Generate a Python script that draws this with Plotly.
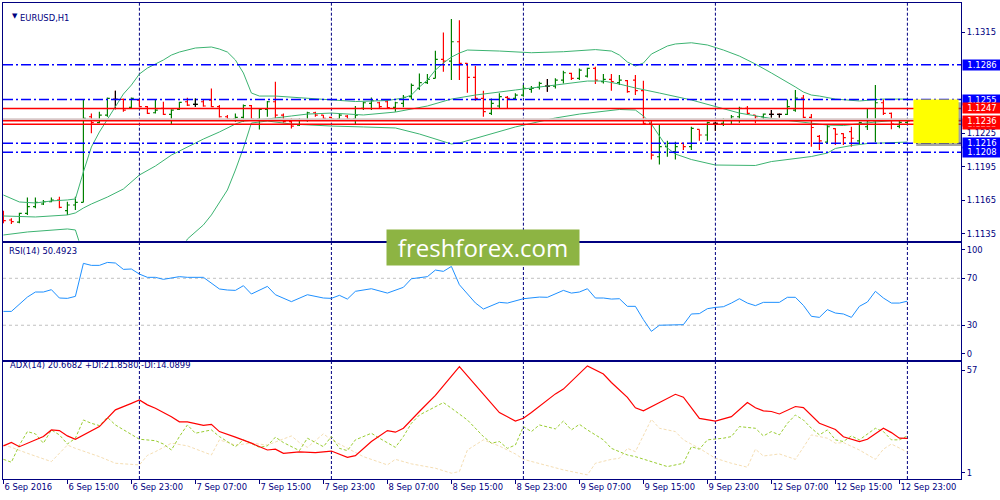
import plotly.graph_objects as go
from plotly.subplots import make_subplots

# H1 bars from 6 Sep 07:00 to 13 Sep 00:00, x axis = bar number
bars = list(range(114))

bar_open = [1.11533, 1.11474, 1.11455, 1.11533, 1.11593, 1.11617, 1.11637, 1.11652, 1.11557, 1.11608,
            1.11632, 1.12396, 1.12343, 1.12411, 1.12551, 1.12551, 1.12480, 1.12545, 1.12486, 1.12432,
            1.12471, 1.12417, 1.12462, 1.12530, 1.12506, 1.12530, 1.12545, 1.12486, 1.12396, 1.12376,
            1.12390, 1.12495, 1.12376, 1.12462, 1.12530, 1.12411, 1.12352, 1.12322, 1.12367, 1.12432,
            1.12411, 1.12390, 1.12376, 1.12402, 1.12376, 1.12471, 1.12515, 1.12521, 1.12530, 1.12480,
            1.12515, 1.12575, 1.12649, 1.12700, 1.12739, 1.12908, 1.12893, 1.13066, 1.12873, 1.12747,
            1.12560, 1.12426, 1.12492, 1.12569, 1.12560, 1.12590, 1.12640, 1.12658, 1.12670, 1.12670,
            1.12724, 1.12783, 1.12739, 1.12759, 1.12828, 1.12709, 1.12730, 1.12700, 1.12718, 1.12724,
            1.12629, 1.12337, 1.12039, 1.12129, 1.12084, 1.12158, 1.12129, 1.12283, 1.12233, 1.12337,
            1.12337, 1.12367, 1.12396, 1.12471, 1.12411, 1.12396, 1.12417, 1.12417, 1.12417, 1.12456,
            1.12563, 1.12391, 1.12220, 1.12170, 1.12290, 1.12246, 1.12263, 1.12180, 1.12307, 1.12361,
            1.12521, 1.12427, 1.12310, 1.12346]
bar_high = [1.11557, 1.11489, 1.11539, 1.11676, 1.11676, 1.11652, 1.11676, 1.11682, 1.11637, 1.11682,
            1.12551, 1.12426, 1.12441, 1.12569, 1.12629, 1.12560, 1.12569, 1.12551, 1.12492, 1.12551,
            1.12530, 1.12462, 1.12530, 1.12566, 1.12560, 1.12551, 1.12649, 1.12500, 1.12411, 1.12426,
            1.12506, 1.12500, 1.12471, 1.12536, 1.12709, 1.12426, 1.12382, 1.12382, 1.12441, 1.12441,
            1.12411, 1.12396, 1.12426, 1.12411, 1.12492, 1.12530, 1.12569, 1.12530, 1.12545, 1.12530,
            1.12590, 1.12694, 1.12783, 1.12777, 1.12986, 1.13149, 1.13268, 1.13259, 1.12873, 1.12849,
            1.12629, 1.12560, 1.12605, 1.12581, 1.12605, 1.12679, 1.12670, 1.12709, 1.12733, 1.12739,
            1.12807, 1.12789, 1.12828, 1.12834, 1.12843, 1.12777, 1.12777, 1.12768, 1.12724, 1.12768,
            1.12718, 1.12367, 1.12331, 1.12182, 1.12173, 1.12164, 1.12307, 1.12283, 1.12352, 1.12352,
            1.12382, 1.12411, 1.12486, 1.12492, 1.12411, 1.12426, 1.12456, 1.12426, 1.12551, 1.12635,
            1.12590, 1.12421, 1.12233, 1.12322, 1.12293, 1.12248, 1.12307, 1.12352, 1.12471, 1.12679,
            1.12551, 1.12433, 1.12367, 1.12381]
bar_low = [1.11444, 1.11438, 1.11444, 1.11518, 1.11578, 1.11608, 1.11632, 1.11578, 1.11518, 1.11563,
           1.11632, 1.12248, 1.12337, 1.12396, 1.12462, 1.12441, 1.12471, 1.12480, 1.12420, 1.12426,
           1.12411, 1.12322, 1.12456, 1.12492, 1.12486, 1.12486, 1.12480, 1.12390, 1.12361, 1.12352,
           1.12352, 1.12367, 1.12283, 1.12396, 1.12382, 1.12343, 1.12292, 1.12313, 1.12352, 1.12396,
           1.12367, 1.12367, 1.12367, 1.12367, 1.12331, 1.12456, 1.12456, 1.12471, 1.12471, 1.12441,
           1.12480, 1.12551, 1.12634, 1.12688, 1.12739, 1.12798, 1.12724, 1.12724, 1.12611, 1.12539,
           1.12396, 1.12411, 1.12471, 1.12471, 1.12545, 1.12575, 1.12611, 1.12640, 1.12620, 1.12649,
           1.12694, 1.12724, 1.12724, 1.12747, 1.12688, 1.12694, 1.12629, 1.12679, 1.12611, 1.12590,
           1.12331, 1.12015, 1.11970, 1.12039, 1.12015, 1.12099, 1.12099, 1.12182, 1.12182, 1.12271,
           1.12313, 1.12322, 1.12343, 1.12411, 1.12337, 1.12373, 1.12390, 1.12390, 1.12411, 1.12441,
           1.12382, 1.12129, 1.12099, 1.12159, 1.12144, 1.12144, 1.12129, 1.12144, 1.12278, 1.12168,
           1.12412, 1.12284, 1.12293, 1.12336]
bar_close = [1.11468, 1.11459, 1.11533, 1.11593, 1.11632, 1.11637, 1.11652, 1.11587, 1.11608, 1.11632,
             1.12382, 1.12343, 1.12411, 1.12560, 1.12551, 1.12456, 1.12560, 1.12486, 1.12426, 1.12456,
             1.12417, 1.12456, 1.12524, 1.12500, 1.12506, 1.12492, 1.12486, 1.12396, 1.12376, 1.12390,
             1.12495, 1.12376, 1.12462, 1.12530, 1.12411, 1.12352, 1.12313, 1.12367, 1.12432, 1.12411,
             1.12382, 1.12376, 1.12411, 1.12376, 1.12411, 1.12521, 1.12539, 1.12486, 1.12477, 1.12521,
             1.12569, 1.12676, 1.12700, 1.12730, 1.12908, 1.12893, 1.13066, 1.12873, 1.12747, 1.12560,
             1.12441, 1.12515, 1.12575, 1.12560, 1.12590, 1.12649, 1.12649, 1.12694, 1.12670, 1.12724,
             1.12789, 1.12739, 1.12813, 1.12828, 1.12724, 1.12730, 1.12709, 1.12724, 1.12620, 1.12629,
             1.12337, 1.12054, 1.12129, 1.12158, 1.12129, 1.12129, 1.12292, 1.12233, 1.12343, 1.12337,
             1.12367, 1.12396, 1.12471, 1.12426, 1.12396, 1.12420, 1.12417, 1.12417, 1.12486, 1.12563,
             1.12391, 1.12300, 1.12180, 1.12307, 1.12240, 1.12210, 1.12204, 1.12343, 1.12361, 1.12521,
             1.12427, 1.12330, 1.12346, 1.12360]
doji_bars = [14, 24, 68, 89, 96, 97]

# Bollinger bands
bb_up_bar = [0, 2, 4, 6, 8, 9, 10, 11, 12, 13, 14, 15, 16, 17, 18, 19, 20, 21, 22, 24, 26, 27, 28, 29, 30,
             31, 32, 34, 38, 41, 44, 48, 50, 51, 52, 53, 54, 55, 56, 57, 58, 62, 66, 70, 74, 76, 77, 78,
             79, 80, 81, 82, 83, 84, 86, 88, 90, 92, 94, 96, 98, 99, 100, 101, 102, 104, 107, 109, 110, 113]
bb_up = [1.11697, 1.11635, 1.11626, 1.11644, 1.11653, 1.11662, 1.11903, 1.12126, 1.12260, 1.12376,
         1.12483, 1.12599, 1.12679, 1.12778, 1.12831, 1.12867, 1.12903, 1.12947, 1.12974, 1.13010,
         1.13019, 1.13001, 1.12974, 1.12903, 1.12787, 1.12608, 1.12581, 1.12581, 1.12563, 1.12546,
         1.12532, 1.12541, 1.12563, 1.12590, 1.12662, 1.12724, 1.12813, 1.12876, 1.12929, 1.12965,
         1.12992, 1.12983, 1.12968, 1.12977, 1.12996, 1.12983, 1.12947, 1.12885, 1.12849, 1.12876,
         1.12956, 1.12992, 1.13028, 1.13046, 1.13057, 1.13037, 1.12992, 1.12938, 1.12867, 1.12787,
         1.12706, 1.12662, 1.12617, 1.12590, 1.12581, 1.12554, 1.12537, 1.12546, 1.12554, 1.12554]
bb_mid_bar = [0, 4, 8, 9, 10, 11, 13, 15, 17, 19, 21, 23, 25, 27, 29, 30, 33, 36, 38, 41, 45, 49, 53, 56,
              59, 64, 69, 73, 75, 77, 79, 81, 82, 86, 89, 92, 96, 100, 103, 105, 107, 109, 111, 113]
bb_mid = [1.11510, 1.11501, 1.11519, 1.11537, 1.11581, 1.11617, 1.11679, 1.11751, 1.11876, 1.11956,
          1.12054, 1.12126, 1.12197, 1.12260, 1.12331, 1.12358, 1.12376, 1.12403, 1.12420, 1.12429,
          1.12412, 1.12438, 1.12492, 1.12554, 1.12590, 1.12635, 1.12679, 1.12715, 1.12715, 1.12688,
          1.12653, 1.12626, 1.12608, 1.12546, 1.12488, 1.12429, 1.12380, 1.12349, 1.12322, 1.12318,
          1.12336, 1.12349, 1.12361, 1.12367]
bb_low_bar = [0, 3, 8, 9, 10, 22, 23, 24, 25, 26, 27, 28, 29, 30, 31, 33, 36, 38, 41, 45, 49, 52, 56, 57,
              59, 64, 69, 72, 77, 79, 80, 81, 82, 83, 84, 86, 89, 94, 96, 99, 101, 103, 104, 106, 108, 113]
bb_low = [1.11340, 1.11367, 1.11394, 1.11385, 1.11162, 1.11162, 1.11304, 1.11367, 1.11430, 1.11519,
          1.11626, 1.11742, 1.11920, 1.12117, 1.12340, 1.12358, 1.12331, 1.12322, 1.12313, 1.12305,
          1.12296, 1.12242, 1.12153, 1.12162, 1.12202, 1.12305, 1.12385, 1.12420, 1.12461, 1.12456,
          1.12403, 1.12331, 1.12224, 1.12117, 1.12063, 1.12014, 1.11965, 1.11961, 1.11996, 1.12023,
          1.12041, 1.12072, 1.12113, 1.12139, 1.12157, 1.12170]

# RSI(14)
rsi_bar = [0, 1, 3, 4, 5, 6, 7, 8, 9, 10, 11, 12, 13, 14, 15, 16, 17, 18, 19, 20, 22, 23, 25, 27, 28, 29,
           30, 31, 33, 34, 36, 38, 40, 41, 42, 43, 44, 46, 48, 50, 51, 53, 54, 55, 56, 57, 59, 60, 62, 63,
           65, 66, 67, 68, 70, 71, 72, 73, 74, 75, 76, 77, 78, 79, 80, 81, 82, 85, 86, 87, 88, 89, 90, 91,
           92, 93, 94, 95, 97, 98, 99, 100, 101, 102, 103, 104, 105, 106, 107, 108, 109, 110, 111, 112, 113]
rsi_val = [41.8, 41.8, 54.0, 58.3, 58.3, 60.3, 53.2, 52.9, 54.6, 82.7, 81.0, 81.0, 83.5, 83.0, 77.6, 77.9,
           73.6, 70.8, 70.8, 69.1, 71.4, 70.8, 70.8, 60.9, 60.0, 59.7, 63.7, 56.6, 63.1, 56.0, 50.1, 56.0,
           53.2, 52.9, 55.5, 52.3, 58.9, 61.1, 57.4, 62.3, 69.6, 71.4, 77.0, 75.9, 80.1, 64.5, 49.0, 43.8,
           49.5, 48.9, 52.6, 53.2, 54.0, 53.8, 59.7, 57.4, 58.3, 61.1, 53.2, 53.2, 52.3, 52.6, 46.1, 46.1,
           34.8, 24.8, 30.0, 30.5, 39.6, 39.9, 44.1, 45.2, 45.8, 48.9, 52.6, 48.9, 46.7, 49.5, 49.5, 53.8,
           53.8, 46.9, 37.6, 36.7, 43.3, 40.4, 39.6, 36.7, 46.1, 49.8, 58.9, 53.2, 48.9, 48.9, 50.5]

# ADX(14), +DI, -DI
adx_bar = [0, 1, 2, 4, 5, 6, 7, 8, 9, 12, 14, 16, 17, 18, 19, 21, 22, 23, 25, 26, 27, 29, 31, 33, 34, 35,
           37, 39, 41, 43, 44, 46, 48, 49, 50, 52, 54, 57, 59, 62, 64, 65, 66, 69, 70, 73, 75, 76, 78, 79,
           80, 82, 84, 85, 87, 89, 91, 93, 94, 95, 96, 97, 99, 100, 102, 104, 105, 107, 108, 110, 111, 112, 113]
adx_val = [17.1, 18.8, 16.7, 20.0, 21.6, 24.8, 24.5, 21.9, 20.3, 26.4, 34.5, 37.6, 39.3, 36.9, 35.3, 31.2,
           28.7, 28.7, 27.0, 27.5, 24.0, 21.3, 18.4, 15.1, 15.5, 13.5, 14.2, 13.8, 14.6, 11.6, 12.4, 19.2,
           24.5, 23.7, 25.6, 33.7, 41.5, 55.4, 46.5, 33.2, 29.1, 30.4, 33.2, 42.2, 44.5, 55.7, 51.8, 47.7,
           40.5, 35.5, 34.0, 38.0, 42.0, 40.6, 30.4, 29.1, 31.2, 38.0, 35.5, 34.0, 33.7, 32.5, 36.1, 35.6,
           28.0, 25.0, 21.5, 19.2, 20.3, 25.6, 23.5, 20.8, 20.7]
pdi_bar = [0, 1, 2, 3, 4, 5, 6, 7, 8, 9, 10, 11, 12, 13, 14, 16, 17, 19, 20, 21, 22, 23, 24, 26, 27, 29,
           30, 32, 33, 34, 35, 37, 38, 40, 41, 42, 43, 44, 46, 47, 48, 49, 50, 51, 52, 54, 55, 56, 58, 60,
           61, 62, 63, 64, 65, 66, 67, 69, 70, 71, 72, 73, 75, 76, 78, 79, 81, 83, 85, 86, 87, 88, 90, 91,
           92, 94, 95, 96, 97, 98, 99, 100, 101, 102, 103, 104, 105, 106, 107, 109, 110, 111, 112, 113]
pdi_val = [10.6, 9.2, 17.5, 24.0, 22.9, 18.4, 24.8, 22.4, 18.0, 20.8, 29.6, 28.0, 26.9, 30.9, 27.2, 22.4,
           20.3, 19.6, 18.0, 15.1, 21.6, 27.2, 23.2, 24.8, 21.6, 16.7, 20.0, 16.4, 17.1, 21.3, 18.7, 14.8,
           20.8, 16.7, 21.6, 15.9, 14.8, 20.0, 23.2, 20.8, 18.4, 16.4, 21.6, 28.0, 32.0, 36.1, 38.0, 35.3,
           29.6, 21.6, 18.4, 19.2, 15.9, 17.5, 26.4, 24.0, 27.2, 25.3, 29.1, 24.8, 27.5, 24.8, 20.0, 15.9,
           12.7, 11.9, 9.5, 7.1, 8.7, 16.7, 15.5, 20.0, 20.8, 21.6, 26.4, 25.6, 21.9, 24.0, 22.4, 28.0,
           32.0, 29.6, 25.6, 22.4, 24.8, 20.0, 19.2, 21.9, 20.0, 25.6, 24.0, 20.0, 20.0, 21.9]
mdi_bar = [0, 1, 3, 6, 8, 9, 12, 14, 17, 18, 19, 21, 23, 25, 26, 27, 29, 31, 33, 36, 37, 38, 40, 41, 43,
           45, 48, 49, 51, 54, 56, 57, 58, 60, 62, 64, 65, 68, 70, 73, 74, 76, 77, 78, 79, 81, 82, 84, 85,
           87, 89, 91, 93, 94, 95, 97, 99, 100, 101, 103, 104, 105, 107, 109, 110, 111, 113]
mdi_val = [17.5, 16.4, 13.5, 9.5, 17.5, 15.9, 11.9, 8.7, 7.9, 12.5, 14.3, 18.4, 17.1, 14.3, 12.7, 20.0,
           17.5, 18.4, 17.5, 21.9, 18.7, 16.4, 22.9, 20.0, 15.9, 11.9, 7.9, 10.6, 8.4, 6.3, 3.9, 4.7, 15.1,
           20.0, 17.0, 13.2, 10.6, 7.4, 5.5, 3.1, 8.7, 10.6, 11.1, 15.9, 14.3, 29.9, 25.6, 24.0, 20.0,
           15.9, 11.1, 8.7, 6.8, 15.5, 12.2, 13.2, 10.6, 16.4, 22.4, 20.8, 18.4, 18.7, 15.1, 10.6, 15.5,
           18.0, 14.1]

# chart objects
blue_levels = [1.1286, 1.1255, 1.1216, 1.1208]
red_levels = [1.1236, 1.1233, 1.1247]
bid_price = 1.12372
zone_top, zone_bottom = 1.1255, 1.1216
grid_bars = [17, 41, 65, 89, 113]

time_ticks = [0, 8, 16, 24, 32, 40, 48, 56, 64, 72, 80, 88, 96, 104, 112]
time_labels = ["6 Sep 2016", "6 Sep 15:00", "6 Sep 23:00", "7 Sep 07:00", "7 Sep 15:00",
               "7 Sep 23:00", "8 Sep 07:00", "8 Sep 15:00", "8 Sep 23:00", "9 Sep 07:00",
               "9 Sep 15:00", "9 Sep 23:00", "12 Sep 07:00", "12 Sep 15:00", "12 Sep 23:00"]
price_ticks = [1.1315, 1.1225, 1.1195, 1.1165, 1.1135]
box_prices = [1.1286, 1.1255, 1.1247, 1.1233, 1.1236, 1.1216, 1.1208]
box_colors = ["#0000ff", "#0000ff", "#ff0000", "#ff0000", "#ff0000", "#0000ff", "#0000ff"]

NAVY = "#000080"
FONT = "DejaVu Sans"
FSIZE = 8.4

fig = make_subplots(rows=3, cols=1, shared_xaxes=True)

fig.add_trace(go.Ohlc(x=bars, open=bar_open, high=bar_high, low=bar_low, close=bar_close,
                      increasing=dict(line=dict(color="#008000", width=1.2)),
                      decreasing=dict(line=dict(color="#ff0000", width=1.2)),
                      tickwidth=0.3, hoverinfo="skip"), row=1, col=1)
fig.add_trace(go.Ohlc(x=doji_bars,
                      open=[bar_open[i] for i in doji_bars], high=[bar_high[i] for i in doji_bars],
                      low=[bar_low[i] for i in doji_bars], close=[bar_close[i] for i in doji_bars],
                      increasing=dict(line=dict(color="black", width=1.2)),
                      decreasing=dict(line=dict(color="black", width=1.2)),
                      tickwidth=0.3, hoverinfo="skip"), row=1, col=1)

for bx, by in [(bb_up_bar, bb_up), (bb_mid_bar, bb_mid), (bb_low_bar, bb_low)]:
    fig.add_trace(go.Scatter(x=bx, y=by, mode="lines", line=dict(color="#3cb371", width=1),
                             hoverinfo="skip"), row=1, col=1)

fig.add_trace(go.Scatter(x=rsi_bar, y=rsi_val, mode="lines", line=dict(color="#1e90ff", width=1),
                         hoverinfo="skip"), row=2, col=1)

fig.add_trace(go.Scatter(x=mdi_bar, y=mdi_val, mode="lines",
                         line=dict(color="#f5deb3", width=1, dash="3px,2px"), hoverinfo="skip"), row=3, col=1)
fig.add_trace(go.Scatter(x=pdi_bar, y=pdi_val, mode="lines",
                         line=dict(color="#9acd32", width=1, dash="3px,2px"), hoverinfo="skip"), row=3, col=1)
fig.add_trace(go.Scatter(x=adx_bar, y=adx_val, mode="lines", line=dict(color="#ff0000", width=1.2),
                         hoverinfo="skip"), row=3, col=1)

shapes = []
# day separators
for b in grid_bars:
    for xr, yr in [("x", "y domain"), ("x2", "y2 domain"), ("x3", "y3 domain")]:
        shapes.append(dict(type="line", xref=xr, yref=yr, x0=b, x1=b, y0=0, y1=1, layer="below",
                           line=dict(color=NAVY, width=1, dash="3px,2px")))
# RSI levels
for lvl in [70, 30]:
    shapes.append(dict(type="line", xref="paper", yref="y2", x0=0, x1=1, y0=lvl, y1=lvl, layer="below",
                       line=dict(color="#c0c0c0", width=1, dash="3px,3px")))
for p in blue_levels:
    shapes.append(dict(type="line", xref="paper", yref="y", x0=0, x1=1, y0=p, y1=p, layer="above",
                       line=dict(color="#0000ff", width=1.5, dash="10px,3px,2px,3px")))
shapes.append(dict(type="line", xref="paper", yref="y", x0=0, x1=1, y0=bid_price, y1=bid_price,
                   layer="above", line=dict(color="#d8c8c8", width=2.5)))
for p in red_levels:
    shapes.append(dict(type="line", xref="paper", yref="y", x0=0, x1=1, y0=p, y1=p, layer="above",
                       line=dict(color="#ff0000", width=1.5)))
# yellow zone with shadow
shapes.append(dict(type="rect", xref="x", yref="y", x0=114.1, x1=119.8,
                   y0=zone_bottom - 0.00025, y1=zone_top - 0.00025, layer="above",
                   line=dict(width=0), fillcolor="rgba(90,90,90,0.55)"))
shapes.append(dict(type="rect", xref="x", yref="y", x0=113.75, x1=119.4, y0=zone_bottom, y1=zone_top,
                   layer="above", line=dict(width=0), fillcolor="#ffff00"))

annotations = [
    dict(text="▼", xref="paper", yref="paper", x=0.0073, y=0.985, showarrow=False,
         font=dict(size=7, color=NAVY)),
    dict(text="EURUSD,H1", xref="paper", yref="paper", x=0.0157, y=0.983, xanchor="left",
         showarrow=False, font=dict(family=FONT, size=FSIZE, color=NAVY)),
    dict(text="RSI(14) 50.4923", xref="paper", yref="paper", x=0.0042, y=0.4784, xanchor="left",
         showarrow=False, font=dict(family=FONT, size=FSIZE, color=NAVY)),
    dict(text="ADX(14) 20.6682 +DI:21.8580 -DI:14.0899", xref="paper", yref="paper", x=0.0052,
         y=0.2254, xanchor="left", showarrow=False, font=dict(family=FONT, size=FSIZE, color=NAVY)),
    dict(text="freshforex.com", xref="paper", yref="paper", x=0.501, y=0.4853, showarrow=False,
         width=192, height=35, bgcolor="#8db443", borderpad=0,
         font=dict(family="Open Sans", size=24, color="white")),
]
for p, c in zip(box_prices, box_colors):
    annotations.append(dict(text=f"{p:.4f}", xref="paper", yref="y", x=1, y=p, xanchor="left",
                            xshift=1, showarrow=False, width=38, height=10, bgcolor=c, borderpad=0,
                            font=dict(family=FONT, size=FSIZE, color="white")))

fig.update_layout(width=1000, height=500, margin=dict(l=3, r=39, t=3, b=21),
                  paper_bgcolor="white", plot_bgcolor="white", showlegend=False, hovermode=False,
                  font=dict(family=FONT, size=FSIZE, color=NAVY),
                  shapes=shapes, annotations=annotations)

axis_common = dict(showgrid=False, zeroline=False, showline=True, mirror=True,
                   linecolor=NAVY, linewidth=1)
fig.update_xaxes(range=[-0.05, 119.7], rangeslider_visible=False, showticklabels=False, ticks="",
                 **axis_common)
fig.update_xaxes(row=3, col=1, showticklabels=True, tickvals=time_ticks, ticktext=time_labels,
                 ticks="outside", ticklen=4, tickcolor=NAVY, ticklabelposition="outside right",
                 tickangle=0, tickfont=dict(family=FONT, size=FSIZE, color=NAVY))

fig.update_layout(
    yaxis=dict(domain=[0.5006, 1], range=[1.11289, 1.13412], side="right",
               tickvals=price_ticks, ticktext=[f"{t:.4f}" for t in price_ticks], **axis_common),
    yaxis2=dict(domain=[0.25, 0.4964], range=[0.4, 100.3], side="right",
                tickvals=[94.3, 70, 30, 5.8], ticktext=["100", "70", "30", "0"], **axis_common),
    yaxis3=dict(domain=[0, 0.2458], range=[1.1, 57.6], side="right",
                tickvals=[53.7, 4.1], ticktext=["57", "1"], **axis_common),
)
fig.update_yaxes(ticks="outside", ticklen=3, tickcolor=NAVY,
                 tickfont=dict(family=FONT, size=FSIZE, color=NAVY))

# the page body has a default 8px margin; remove it so the chart fills the window
fig.write_html("out.html", config={"displayModeBar": False},
               post_script="document.body.style.margin='0';")
